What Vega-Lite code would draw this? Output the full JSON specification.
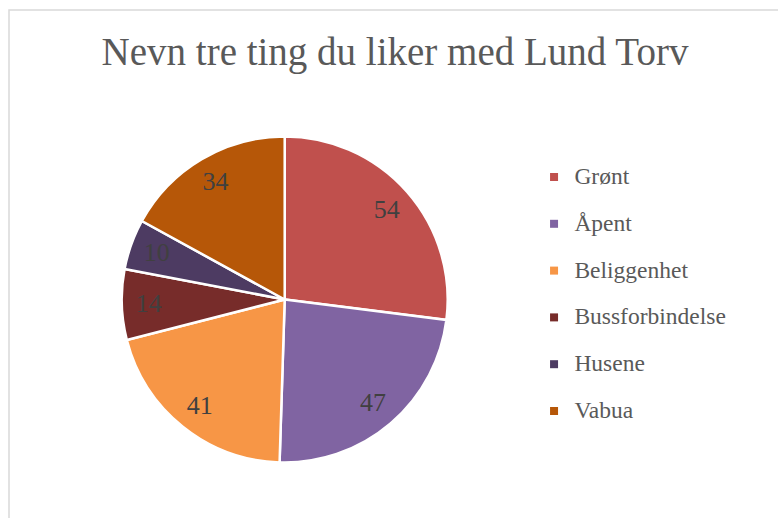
{
  "$schema": "https://vega.github.io/schema/vega-lite/v6.json",
  "autosize": "none",
  "width": 772,
  "height": 512,
  "padding": {"left": 9, "top": 10, "right": -3, "bottom": -4},
  "background": "white",
  "view": {"stroke": "#d9d9d9", "strokeWidth": 1.5},
  "title": {
    "text": "Nevn tre ting du liker med Lund Torv",
    "font": "Liberation Serif",
    "fontSize": 39,
    "fontWeight": "normal",
    "color": "#595959",
    "anchor": "middle",
    "frame": "group",
    "baseline": "alphabetic",
    "offset": -93.7
  },
  "data": {
    "values": [
      {"kategori": "Grønt", "antall": 54, "rekkefolge": 1},
      {"kategori": "Åpent", "antall": 47, "rekkefolge": 2},
      {"kategori": "Beliggenhet", "antall": 41, "rekkefolge": 3},
      {"kategori": "Bussforbindelse", "antall": 14, "rekkefolge": 4},
      {"kategori": "Husene", "antall": 10, "rekkefolge": 5},
      {"kategori": "Vabua", "antall": 34, "rekkefolge": 6}
    ]
  },
  "encoding": {
    "theta": {"field": "antall", "type": "quantitative", "stack": true},
    "order": {"field": "rekkefolge", "type": "quantitative"},
    "color": {
      "field": "kategori",
      "type": "nominal",
      "scale": {
        "domain": ["Grønt", "Åpent", "Beliggenhet", "Bussforbindelse", "Husene", "Vabua"],
        "range": ["#C0504D", "#8064A2", "#F79646", "#772C2A", "#4D3B62", "#B65708"]
      },
      "legend": {
        "title": null,
        "orient": "none",
        "legendX": 533.3,
        "legendY": 155.25,
        "symbolType": "square",
        "symbolSize": 64,
        "symbolStrokeWidth": 0,
        "labelFont": "Liberation Serif",
        "labelFontSize": 23.5,
        "labelColor": "#595959",
        "labelOffset": 8.6,
        "labelLimit": 400,
        "rowPadding": 21.8,
        "padding": 0
      }
    }
  },
  "layer": [
    {
      "mark": {
        "type": "arc",
        "outerRadius": 163,
        "stroke": "white",
        "strokeWidth": 2.5,
        "xOffset": -110.3,
        "yOffset": 33.5
      }
    },
    {
      "mark": {
        "type": "text",
        "radius": 136,
        "xOffset": -110.3,
        "yOffset": 33.5,
        "font": "Liberation Serif",
        "fontSize": 26,
        "fill": "#404040",
        "baseline": "middle",
        "align": "center"
      },
      "encoding": {
        "text": {"field": "antall", "type": "quantitative"},
        "color": {"value": "#404040"}
      }
    }
  ]
}
